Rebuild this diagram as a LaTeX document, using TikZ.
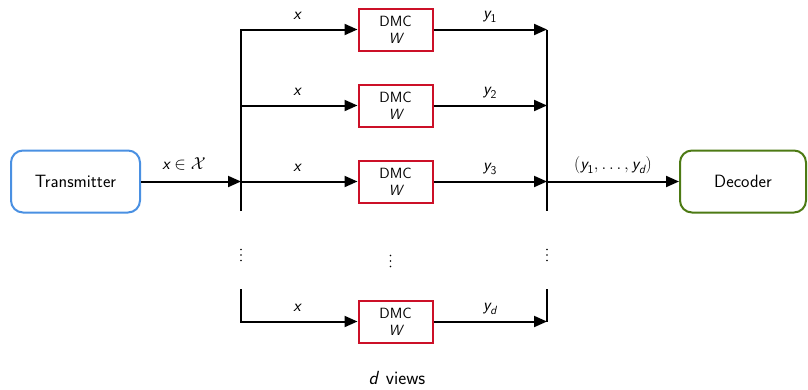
\documentclass[tikz,border=0pt]{standalone}
\usepackage{amsmath}
\usetikzlibrary{arrows.meta}
\newcommand{\sx}[1]{\text{\sffamily\itshape #1}}
\definecolor{txblue}{RGB}{74,144,226}
\definecolor{dmcred}{RGB}{204,16,40}
\definecolor{decgreen}{RGB}{77,122,20}
\begin{document}
\begin{tikzpicture}[x=1pt,y=-1pt,line width=2pt,
  >={Triangle[length=13pt,width=11pt]},
  endbox/.style={draw,rounded corners=12pt,line width=2pt,inner sep=0pt,
    font=\sffamily\fontsize{17.8}{21}\selectfont},
  dmcbox/.style={draw=dmcred,line width=2pt,minimum width=74pt,minimum height=42pt,
    inner sep=0pt,align=center,font=\sffamily\fontsize{14.8}{16}\selectfont},
  lbl/.style={font=\fontsize{17}{20}\selectfont,inner sep=0pt},
  dot/.style={fill,circle,inner sep=0pt,minimum size=1.8pt,line width=0pt}]
\useasboundingbox (0,0) rectangle (808,389);

% end boxes
\node[endbox,draw=txblue,minimum width=129pt,minimum height=62pt] (tx) at (75.5,181.5) {Transmitter};
\node[endbox,draw=decgreen,minimum width=126pt,minimum height=62pt] (dec) at (743,181.5) {Decoder};

% DMC boxes
\node[dmcbox] (d1) at (395.5,29.5) {DMC\\[1pt]\sx{W}};
\node[dmcbox] (d2) at (395.5,105.5) {DMC\\[1pt]\sx{W}};
\node[dmcbox] (d3) at (395.5,181.5) {DMC\\[1pt]\sx{W}};
\node[dmcbox] (d4) at (395.5,321.5) {DMC\\[1pt]\sx{W}};

% bus coordinates
\coordinate (lt) at (241,29.5);
\coordinate (l2) at (241,105.5);
\coordinate (l3) at (241,181.5);
\coordinate (lb) at (241,211);
\coordinate (lt2) at (241,289);
\coordinate (lb2) at (241,321.5);
\coordinate (rt) at (547,29.5);
\coordinate (r2) at (547,105.5);
\coordinate (r3) at (547,181.5);
\coordinate (rb) at (547,211);
\coordinate (rt2) at (547,289);
\coordinate (rb2) at (547,321.5);

% left side
\draw[->] (tx.east) -- (l3);
\draw[->] (lb) -- (lt) -- (d1.west);
\draw[->] (l2) -- (d2.west);
\draw[->] (l3) -- (d3.west);
\draw[->] (lt2) -- (lb2) -- (d4.west);

% right side
\draw (rt) -- (rb);
\draw (rt2) -- (rb2);
\draw[->] (d1.east) -- (rt);
\draw[->] (d2.east) -- (r2);
\draw[->] (d3.east) -- (r3);
\draw[->] (d4.east) -- (rb2);
\draw[->] (r3) -- (dec.west);

% labels
\node[lbl] (lx0) at (184,164) {$\sx{x}\in\mathcal{X}$};
\node[lbl] (lx1) at (297,16) {$\sx{x}$};
\node[lbl] (lx2) at (297,92) {$\sx{x}$};
\node[lbl] (lx3) at (297,168) {$\sx{x}$};
\node[lbl] (lx4) at (297,308) {$\sx{x}$};
\node[lbl] (ly1) at (490,17) {$\sx{y}_{\text{\sffamily 1}}$};
\node[lbl] (ly2) at (490,93) {$\sx{y}_{\text{\sffamily 2}}$};
\node[lbl] (ly3) at (490,169) {$\sx{y}_{\text{\sffamily 3}}$};
\node[lbl] (ly4) at (490,309) {$\sx{y}_{\sx{d}}$};
\node[lbl] (lyall) at (613,165) {$(\sx{y}_{\text{\sffamily 1}},\ldots,\sx{y}_{\sx{d}})$};

% vertical dots
\foreach \cx/\cy [count=\k] in {241/255, 390.5/261, 547/255}{
  \node[dot] (vd\k a) at (\cx,\cy-5.5) {};
  \node[dot] (vd\k b) at (\cx,\cy) {};
  \node[dot] (vd\k c) at (\cx,\cy+5.5) {};
}

\node[font=\sffamily\fontsize{19}{22}\selectfont,inner sep=0pt] (views) at (397,378) {\sx{d}\hspace{8pt}views};
\end{tikzpicture}
\end{document}
